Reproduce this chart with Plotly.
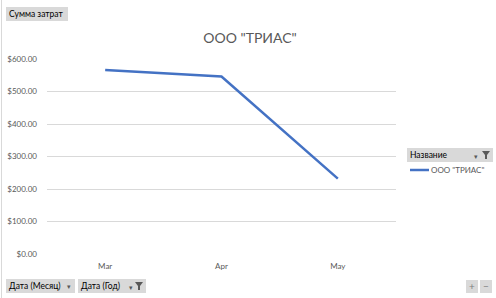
import plotly.graph_objects as go

months = ["Mar", "Apr", "May"]
costs = [566, 546, 232]
series_name = 'ООО "ТРИАС"'
y_ticks = [0, 100, 200, 300, 400, 500, 600]
y_tick_labels = ["$0.00", "$100.00", "$200.00", "$300.00", "$400.00", "$500.00", "$600.00"]

W, H = 496, 298
L, R, T, B = 47, 100, 59, 44
pw, ph = W - L - R, H - T - B
LINE_COLOR = "#4472C4"


def px(x):
    return (x - L) / pw


def py(y):
    return (H - B - y) / ph


FONT = "Lato, 'Open Sans', sans-serif"
GRAY_TXT = "#595959"

fig = go.Figure()
fig.add_trace(go.Scatter(
    x=months, y=costs, mode="lines", name=series_name,
    line=dict(color=LINE_COLOR, width=2.5), showlegend=False,
))

shapes = []
annotations = []


def button(x0, y0, x1, y1):
    shapes.append(dict(type="rect", xref="paper", yref="paper",
                       x0=px(x0), x1=px(x1), y0=py(y0), y1=py(y1),
                       fillcolor="#d9d9d9", line=dict(width=0), layer="above"))


def label(x, y, text, size=8.5, color="#000000", anchor="left"):
    annotations.append(dict(xref="paper", yref="paper", x=px(x), y=py(y),
                            text=text, showarrow=False, xanchor=anchor, yanchor="middle",
                            xshift=-1 if anchor == "left" else 0,
                            font=dict(family=FONT, size=size, color=color)))


def funnel(cx, cy):
    x0, x1 = cx - 4, cx + 4
    path = (f"M {px(x0)},{py(cy-4)} L {px(x1)},{py(cy-4)} L {px(cx+1)},{py(cy)} "
            f"L {px(cx+1)},{py(cy+4)} L {px(cx-1)},{py(cy+4)} L {px(cx-1)},{py(cy)} Z")
    shapes.append(dict(type="path", xref="paper", yref="paper", path=path,
                       fillcolor="#595959", line=dict(width=0), layer="above"))


# "Сумма затрат" button
button(6, 7, 68, 21)
label(8, 14, "Сумма затрат")

# Bottom buttons
button(6, 279, 75, 293)
label(8, 286, "Дата (Месяц)")
label(69, 286, "▾", size=7, color="#595959", anchor="center")
button(78, 279, 146, 293)
label(80, 286, "Дата (Год)")
label(131, 287, "▾", size=7, color="#595959", anchor="center")
funnel(139, 286)

# Legend header
button(407, 148, 493, 162)
label(409, 155, "Название")
label(476, 156, "▾", size=7, color="#595959", anchor="center")
funnel(486, 155)

# Legend entry (drawn manually to match short sample line)
shapes.append(dict(type="line", xref="paper", yref="paper",
                   x0=px(410), x1=px(429), y0=py(170), y1=py(170),
                   line=dict(color=LINE_COLOR, width=2.5)))
label(430, 170, series_name, size=8, color=GRAY_TXT)

# +/- buttons
button(466, 280, 478, 293)
label(472, 286, "+", size=10, color="#7f7f7f", anchor="center")
button(480, 280, 492, 293)
label(486, 286, "−", size=10, color="#7f7f7f", anchor="center")

# left border line
shapes.append(dict(type="line", xref="paper", yref="paper",
                   x0=px(1.5), x1=px(1.5), y0=py(0), y1=py(298),
                   line=dict(color="#d9d9d9", width=1)))

fig.update_layout(
    width=W, height=H,
    margin=dict(l=L, r=R, t=T, b=B, autoexpand=False),
    paper_bgcolor="white", plot_bgcolor="white",
    title=dict(text='ООО "ТРИАС"', xref="container", yref="container",
               x=250 / W, xanchor="center", y=1 - 38 / H, yanchor="middle",
               font=dict(family=FONT, size=14, color=GRAY_TXT)),
    font=dict(family=FONT, size=8, color=GRAY_TXT),
    xaxis=dict(range=[-0.5, 2.5], showgrid=False, showline=False, zeroline=False, ticks="",
               tickfont=dict(size=8, color=GRAY_TXT), ticklabelstandoff=6),
    yaxis=dict(range=[0, 600], tickvals=y_ticks, ticktext=y_tick_labels,
               showgrid=True, gridcolor="#d9d9d9", gridwidth=1, zeroline=False,
               showline=False, ticks="", tickfont=dict(size=8, color=GRAY_TXT),
               ticklabelstandoff=9),
    showlegend=False,
    shapes=shapes, annotations=annotations,
)

fig.write_html("out.html")
